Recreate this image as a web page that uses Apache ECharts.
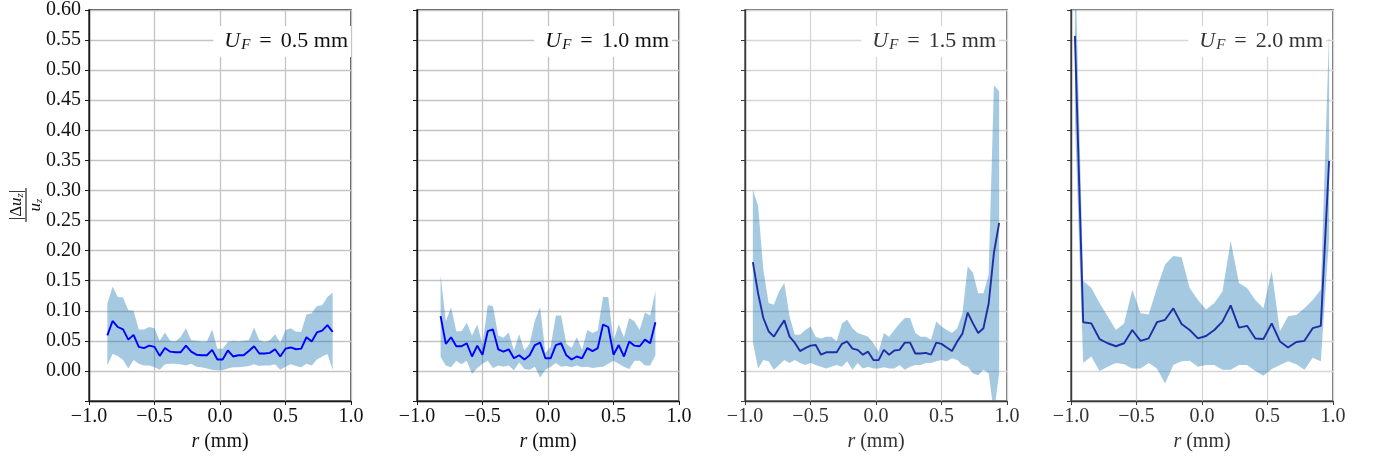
<!DOCTYPE html>
<html><head><meta charset="utf-8">
<script src="https://cdn.jsdelivr.net/npm/echarts@6/dist/echarts.min.js"></script>
<style>html,body{margin:0;padding:0;background:#fff}#c{width:1374px;height:461px}</style>
</head><body><div id="c"></div>
<script>
// ---- data: panel 1 (U_F = 0.5 mm)
const r1 = [-0.86,-0.82,-0.78,-0.74,-0.70,-0.66,-0.62,-0.58,-0.54,-0.50,-0.46,-0.42,-0.38,-0.34,-0.30,-0.26,-0.22,-0.18,-0.14,-0.10,-0.06,-0.02,0.02,0.06,0.10,0.14,0.18,0.22,0.26,0.30,0.34,0.38,0.42,0.46,0.50,0.54,0.58,0.62,0.66,0.70,0.74,0.78,0.82,0.86];
const mean1 = [0.059,0.083,0.073,0.069,0.052,0.060,0.040,0.038,0.042,0.040,0.025,0.038,0.032,0.031,0.031,0.042,0.032,0.027,0.026,0.026,0.035,0.019,0.019,0.034,0.024,0.026,0.026,0.033,0.041,0.029,0.029,0.030,0.036,0.024,0.037,0.039,0.036,0.037,0.056,0.049,0.064,0.067,0.076,0.065];
const up1 = [0.112,0.140,0.123,0.122,0.101,0.100,0.069,0.069,0.073,0.071,0.050,0.064,0.050,0.049,0.057,0.071,0.051,0.050,0.049,0.049,0.069,0.037,0.037,0.048,0.050,0.049,0.050,0.051,0.072,0.051,0.048,0.051,0.061,0.047,0.068,0.071,0.065,0.065,0.094,0.096,0.108,0.109,0.123,0.130];
const lo1 = [0.009,0.028,0.025,0.018,0.004,0.018,0.012,0.009,0.009,0.006,0.002,0.011,0.012,0.012,0.011,0.009,0.012,0.007,0.006,0.004,0.002,0.001,0.001,0.004,0.006,0.006,0.007,0.008,0.011,0.008,0.009,0.009,0.011,0.002,0.007,0.011,0.008,0.006,0.012,0.009,0.019,0.024,0.028,0.002];
// ---- panel 2 (U_F = 1.0 mm)
const r2 = [-0.82,-0.78,-0.74,-0.70,-0.66,-0.62,-0.58,-0.54,-0.50,-0.46,-0.42,-0.38,-0.34,-0.30,-0.26,-0.22,-0.18,-0.14,-0.10,-0.06,-0.02,0.02,0.06,0.10,0.14,0.18,0.22,0.26,0.30,0.34,0.38,0.42,0.46,0.50,0.54,0.58,0.62,0.66,0.70,0.74,0.78,0.82];
const mean2 = [0.091,0.045,0.056,0.041,0.041,0.046,0.024,0.042,0.027,0.066,0.069,0.036,0.032,0.036,0.021,0.026,0.019,0.026,0.043,0.047,0.021,0.021,0.043,0.046,0.026,0.019,0.024,0.021,0.038,0.033,0.038,0.077,0.073,0.027,0.043,0.024,0.049,0.042,0.041,0.052,0.046,0.081];
const up2 = [0.159,0.082,0.106,0.066,0.066,0.080,0.059,0.077,0.044,0.109,0.108,0.059,0.055,0.064,0.034,0.061,0.034,0.045,0.084,0.106,0.030,0.040,0.092,0.092,0.045,0.038,0.056,0.035,0.068,0.063,0.067,0.123,0.123,0.051,0.077,0.056,0.088,0.082,0.068,0.097,0.092,0.133];
const lo2 = [0.023,0.009,0.006,0.017,0.011,0.017,-0.005,0.005,0.012,0.017,0.005,0.009,0.007,0.009,0.001,0.014,0.003,0.002,0.007,-0.011,0.002,0.007,0.013,0.007,0.008,0.006,0.009,0.006,0.007,0.005,0.006,0.007,0.012,0.017,0.012,0.007,0.003,0.017,0.017,0.009,0.009,0.026];
// ---- panel 3 (U_F = 1.5 mm)
const r3 = [-0.94,-0.90,-0.86,-0.82,-0.78,-0.74,-0.70,-0.66,-0.62,-0.58,-0.54,-0.50,-0.46,-0.42,-0.38,-0.34,-0.30,-0.26,-0.22,-0.18,-0.14,-0.10,-0.06,-0.02,0.02,0.06,0.10,0.14,0.18,0.22,0.26,0.30,0.34,0.38,0.42,0.46,0.50,0.54,0.58,0.62,0.66,0.70,0.74,0.78,0.82,0.86,0.90,0.94];
const mean3 = [0.181,0.129,0.088,0.066,0.057,0.071,0.084,0.057,0.047,0.033,0.038,0.042,0.043,0.027,0.031,0.031,0.031,0.045,0.049,0.037,0.035,0.027,0.032,0.018,0.018,0.035,0.027,0.034,0.035,0.047,0.047,0.029,0.029,0.030,0.027,0.047,0.045,0.039,0.033,0.049,0.062,0.097,0.079,0.063,0.071,0.112,0.196,0.246];
const up3 = [0.301,0.274,0.168,0.113,0.110,0.132,0.146,0.091,0.060,0.060,0.068,0.074,0.057,0.054,0.057,0.057,0.049,0.079,0.085,0.071,0.063,0.060,0.057,0.046,0.032,0.063,0.057,0.068,0.079,0.088,0.088,0.063,0.057,0.057,0.052,0.082,0.074,0.068,0.063,0.071,0.096,0.174,0.163,0.129,0.129,0.160,0.475,0.465];
const lo3 = [0.048,0.004,0.018,0.016,0.002,0.010,0.018,0.013,0.018,0.013,0.010,0.013,0.010,0.007,0.004,0.007,0.010,0.007,0.016,0.002,0.013,0.004,0.007,0.004,0.004,0.006,0.004,0.004,0.010,0.002,0.007,0.010,0.010,0.013,0.013,0.016,0.018,0.016,0.021,0.018,0.010,0.007,-0.004,-0.007,0.002,-0.004,-0.070,-0.004];
// ---- panel 4 (U_F = 2.0 mm)
const r4 = [-0.970,-0.907,-0.845,-0.782,-0.720,-0.657,-0.595,-0.532,-0.469,-0.407,-0.344,-0.282,-0.219,-0.156,-0.094,-0.031,0.031,0.094,0.156,0.219,0.282,0.344,0.407,0.469,0.532,0.595,0.657,0.720,0.782,0.845,0.907,0.970];
const mean4 = [0.557,0.081,0.079,0.053,0.046,0.041,0.046,0.068,0.050,0.054,0.081,0.085,0.104,0.078,0.068,0.054,0.058,0.068,0.082,0.109,0.072,0.075,0.054,0.053,0.079,0.049,0.039,0.048,0.050,0.071,0.075,0.349];
const up4 = [0.700,0.150,0.138,0.113,0.091,0.068,0.079,0.135,0.096,0.094,0.138,0.177,0.191,0.189,0.138,0.118,0.102,0.113,0.132,0.216,0.146,0.138,0.118,0.104,0.166,0.066,0.091,0.093,0.104,0.118,0.135,0.560];
const lo4 = [0.420,0.013,0.024,0.000,0.007,0.013,0.011,0.004,0.004,0.013,0.004,-0.021,0.010,0.016,0.017,0.007,0.010,0.010,0.002,0.002,0.010,0.010,0.000,-0.008,0.003,0.010,0.016,0.011,0.002,0.022,0.016,0.220];
// ---- labels
const panelLabels = ['0.5', '1.0', '1.5', '2.0'];
const xTicks = [-1.0, -0.5, 0.0, 0.5, 1.0];

const FONT = '"Liberation Serif", "DejaVu Serif", serif';
const styles = [
  {left: 89,  line: '#0000ff', grid: '#c4c4c4', frame: '#1a1a1a', text: '#111', boxRight: 1023},
  {left: 417, line: '#0000ff', grid: '#c4c4c4', frame: '#1a1a1a', text: '#111', boxRight: 702},
  {left: 745, line: '#1f2ea6', grid: '#d6d6d6', frame: '#3a3a3a', text: '#333', boxRight: 375},
  {left: 1071,line: '#1f2ea6', grid: '#d6d6d6', frame: '#3a3a3a', text: '#333', boxRight: 48}
];
const data = [[r1,mean1,up1,lo1],[r2,mean2,up2,lo2],[r3,mean3,up3,lo3],[r4,mean4,up4,lo4]];
const W = 262, TOP = 10, H = 391;
const grids = [], xAxes = [], yAxes = [], series = [], titles = [];
const fmtX = v => v.toFixed(1).replace('-', '\u2212');

function bandRender(params, api) {
  if (params.dataIndex !== 0) return null;
  const n = params.dataInsideLength;
  const top = [], bot = [];
  for (let i = 0; i < n; i++) {
    top.push(api.coord([api.value(0, i), api.value(2, i)]));
    bot.push(api.coord([api.value(0, i), api.value(1, i)]));
  }
  const pts = top.concat(bot.reverse());
  const cs = params.coordSys;
  return {
    type: 'polygon', shape: {points: pts},
    style: {fill: 'rgba(31,119,180,0.4)', stroke: null},
    clipPath: {type: 'rect', shape: {x: cs.x, y: cs.y, width: cs.width, height: cs.height}}
  };
}

data.forEach((d, k) => {
  const [r, mean, up, lo] = d;
  const s = styles[k];
  grids.push({left: s.left, top: TOP, width: W, height: H, show: true, borderColor: s.frame, borderWidth: 1.4, backgroundColor: 'transparent'});
  xAxes.push({
    type: 'value', gridIndex: k, min: xTicks[0], max: xTicks[xTicks.length-1], interval: 0.5,
    axisLine: {show: true, onZero: false, lineStyle: {color: s.frame, width: 1.4}},
    axisTick: {show: true, length: 4, lineStyle: {color: s.frame, width: 1}},
    axisLabel: {formatter: fmtX, color: s.text, fontFamily: FONT, fontSize: 20, margin: 6},
    splitLine: {show: true, lineStyle: {color: s.grid, width: 1.3}},
    name: '{i|r} (mm)', nameLocation: 'middle', nameGap: 28,
    nameTextStyle: {fontFamily: FONT, fontSize: 20, color: s.text,
      rich: {i: {fontStyle: 'italic', fontFamily: FONT, fontSize: 20, color: s.text}}}
  });
  yAxes.push({
    type: 'value', gridIndex: k, min: -0.05, max: 0.60, interval: 0.05,
    axisLine: {show: true, onZero: false, lineStyle: {color: s.frame, width: 1.4}},
    axisTick: {show: true, length: 4, lineStyle: {color: s.frame, width: 1}},
    axisLabel: {show: k === 0, formatter: v => v < -0.001 ? '' : v.toFixed(2), color: s.text, fontFamily: FONT, fontSize: 20, margin: 8},
    splitLine: {show: true, lineStyle: {color: s.grid, width: 1.3}}
  });
  series.push({
    type: 'custom', xAxisIndex: k, yAxisIndex: k, silent: true, z: 1,
    data: r.map((x, i) => [x, lo[i], up[i]]),
    encode: {x: 0, y: [1, 2]},
    renderItem: bandRender
  });
  series.push({
    type: 'line', xAxisIndex: k, yAxisIndex: k,
    data: r.map((x, i) => [x, mean[i]]), symbol: 'none', silent: true,
    lineStyle: {color: s.line, width: 1.9}, z: 3
  });
  const rt = {fontFamily: FONT, fontWeight: 'normal', color: s.text};
  titles.push({
    text: '{u|U}{f|F}{e|=}{n|' + panelLabels[k] + ' mm}',
    right: s.boxRight, top: 25, backgroundColor: '#fff', padding: [4, 3, 4, 11],
    textStyle: {fontWeight: 'normal', fontFamily: FONT, rich: {
      u: Object.assign({fontStyle: 'italic', fontSize: 22, lineHeight: 24}, rt),
      f: Object.assign({fontStyle: 'italic', fontSize: 15, padding: [9, 0, 0, 1]}, rt),
      e: Object.assign({fontSize: 22, padding: [0, 9, 0, 9]}, rt),
      n: Object.assign({fontSize: 22}, rt)
    }}
  });
});

const chart = echarts.init(document.getElementById('c'), null, {renderer: 'canvas'});
chart.setOption({
  animation: false,
  backgroundColor: '#fff',
  title: titles,
  grid: grids, xAxis: xAxes, yAxis: yAxes, series: series,
  graphic: [{
    type: 'group', x: 26, y: 205, rotation: Math.PI / 2,
    children: [
      {type: 'text', x: 0, y: -9, style: {text: '|Δ{i|u}{s|z}|', align: 'center', verticalAlign: 'middle',
        font: '17px ' + FONT, fill: '#111',
        rich: {i: {fontStyle: 'italic', fontFamily: FONT, fontSize: 17}, s: {fontStyle: 'italic', fontFamily: FONT, fontSize: 11, padding: [7, 0, 0, 0]}}}},
      {type: 'line', shape: {x1: -17, y1: 0, x2: 17, y2: 0}, style: {stroke: '#111', lineWidth: 1.1}},
      {type: 'text', x: 0, y: 10, style: {text: '{i|u}{s|z}', align: 'center', verticalAlign: 'middle',
        font: '17px ' + FONT, fill: '#111',
        rich: {i: {fontStyle: 'italic', fontFamily: FONT, fontSize: 17}, s: {fontStyle: 'italic', fontFamily: FONT, fontSize: 11, padding: [7, 0, 0, 0]}}}}
    ]
  }]
});
</script>
</body></html>
